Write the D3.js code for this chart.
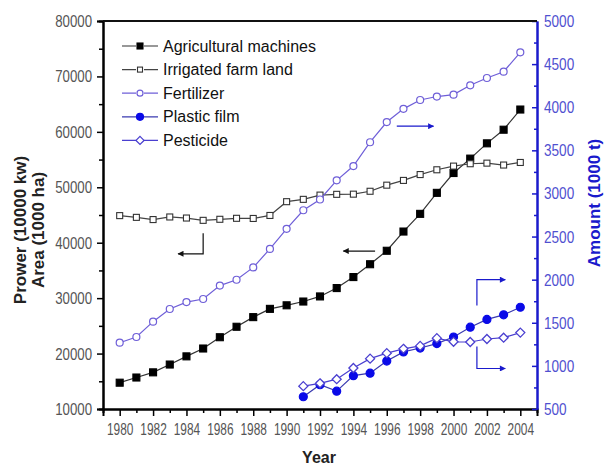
<!DOCTYPE html>
<html>
<head>
<meta charset="utf-8">
<script src="https://cdn.jsdelivr.net/npm/d3@7"></script>
<style>
  html, body { margin: 0; padding: 0; background: #fff; }
  svg { display: block; }
  text { font-family: "Liberation Sans", Arial, sans-serif; }
</style>
</head>
<body>
<div id="chart"></div>
<script>
const years = d3.range(1980, 2005)
const years2 = d3.range(1991, 2005)

// left axis (10000 kw / 1000 ha)
const machines = [14746, 15680, 16614, 18022, 19497, 20913, 22950, 24836, 26575, 28067,
  28708, 29389, 30308, 31817, 33803, 36118, 38547, 42016, 45208, 48996,
  52574, 55172, 57930, 60387, 64028]
const irrigated = [44888, 44574, 44177, 44644, 44453, 44036, 44226, 44403, 44376, 44917,
  47403, 47822, 48590, 48728, 48759, 49281, 50381, 51239, 52296, 53158,
  53820, 54249, 54355, 54014, 54478]

// right axis (1000 t)
const fertilizer = [1269, 1335, 1513, 1660, 1740, 1776, 1931, 1999, 2142, 2357,
  2590, 2805, 2930, 3152, 3318, 3594, 3828, 3981, 4084, 4124,
  4146, 4254, 4339, 4412, 4637]
const plasticFilm = [642, 781, 707, 887, 915, 1056, 1162, 1207, 1259, 1335, 1449, 1539, 1592, 1680]
const pesticide = [765, 798, 846, 976, 1084, 1148, 1198, 1232, 1322, 1279, 1277, 1312, 1327, 1386]

const leftTicks = [10000, 20000, 30000, 40000, 50000, 60000, 70000, 80000]
const rightTicks = [500, 1000, 1500, 2000, 2500, 3000, 3500, 4000, 4500, 5000]
const yearTicks = d3.range(1980, 2005, 2)

const W = 612, H = 466
const blue = '#1a1acc'
const purple = '#6f5fd8'

const x = d3.scaleLinear().domain([1979, 2005]).range([103, 537])
const yL = d3.scaleLinear().domain([10000, 80000]).range([409, 21])
const yR = d3.scaleLinear().domain([500, 5000]).range([409, 21])

const svg = d3.select('#chart').append('svg')
  .attr('width', W).attr('height', H)

// arrowheads
const defs = svg.append('defs')
function marker(id, color) {
  defs.append('marker')
    .attr('id', id)
    .attr('viewBox', '0 0 10 10')
    .attr('refX', 9).attr('refY', 5)
    .attr('markerWidth', 7).attr('markerHeight', 6)
    .attr('markerUnits', 'userSpaceOnUse')
    .attr('orient', 'auto')
    .append('path').attr('d', 'M0,0L10,5L0,10z').attr('fill', color)
}
marker('arrK', '#111')
marker('arrB', blue)

// axes
const xAxis = d3.axisBottom(x).tickValues(yearTicks).tickFormat(d3.format('d')).tickSize(7).tickPadding(7)
const xMinor = d3.axisBottom(x).tickValues(years.filter(d => d % 2)).tickFormat('').tickSize(4)
const lAxis = d3.axisLeft(yL).tickValues(leftTicks).tickFormat(d3.format('d')).tickSize(6)
const lMinor = d3.axisLeft(yL).tickValues(d3.range(15000, 80000, 10000)).tickFormat('').tickSize(4)
const rAxis = d3.axisRight(yR).tickValues(rightTicks).tickFormat(d3.format('d')).tickSizeInner(-5).tickSizeOuter(0)
const rMinor = d3.axisRight(yR).tickValues(d3.range(750, 5000, 500)).tickFormat('').tickSizeInner(-3).tickSizeOuter(0)

// condensed-looking tick labels
function style(g, color, sx, tx) {
  g.select('.domain').attr('stroke', color).attr('stroke-width', 2)
  g.selectAll('.tick line').attr('stroke', color).attr('stroke-width', 1.5)
  const t = g.selectAll('.tick text')
    .attr('fill', color === '#000' ? '#555' : '#5050d0')
    .style('font-size', '17px')
    .attr('transform', `scale(${sx},1)`)
  if (tx !== undefined) t.attr('x', tx)
}

svg.append('g').attr('transform', 'translate(0,409)').call(xMinor).call(g => style(g, '#000', 1))
svg.append('g').attr('transform', 'translate(0,409)').call(xAxis).call(g => style(g, '#000', 0.7))
svg.append('g').attr('transform', 'translate(103,0)').call(lMinor).call(g => style(g, '#000', 1))
svg.append('g').attr('transform', 'translate(103,0)').call(lAxis).call(g => style(g, '#000', 0.78, -11 / 0.78))
svg.append('g').attr('transform', 'translate(537,0)').call(rMinor).call(g => style(g, blue, 1))
svg.append('g').attr('transform', 'translate(537,0)').call(rAxis).call(g => style(g, blue, 0.8, 7 / 0.8))

// top frame
svg.append('line')
  .attr('x1', 103).attr('x2', 537).attr('y1', 21).attr('y2', 21)
  .attr('stroke', '#111').attr('stroke-width', 2)

// axis titles
svg.append('text')
  .attr('x', 319).attr('y', 463)
  .attr('text-anchor', 'middle')
  .style('font-size', '16px').style('font-weight', 'bold').attr('fill', '#222')
  .text('Year')

svg.append('text')
  .attr('transform', 'translate(26,230) rotate(-90)')
  .attr('text-anchor', 'middle')
  .style('font-size', '17px').style('font-weight', 'bold').attr('fill', '#222')
  .text('Prower (10000 kw)')
svg.append('text')
  .attr('transform', 'translate(44,230) rotate(-90)')
  .attr('text-anchor', 'middle')
  .style('font-size', '17px').style('font-weight', 'bold').attr('fill', '#222')
  .text('Area (1000 ha)')

svg.append('text')
  .attr('transform', 'translate(600,203) rotate(-90)')
  .attr('text-anchor', 'middle')
  .style('font-size', '17px').style('font-weight', 'bold').attr('fill', blue)
  .text('Amount (1000 t)')

// series
const series = [
  { name: 'Agricultural machines', xs: years, ys: machines, y: yL, line: '#333', stroke: '#000', fill: '#000', shape: 'square', size: 7 },
  { name: 'Irrigated farm land', xs: years, ys: irrigated, y: yL, line: '#444', stroke: '#333', fill: '#fff', shape: 'square', size: 6 },
  { name: 'Fertilizer', xs: years, ys: fertilizer, y: yR, line: purple, stroke: purple, fill: '#fff', shape: 'circle', size: 7 },
  { name: 'Plastic film', xs: years2, ys: plasticFilm, y: yR, line: '#3a3ab0', stroke: '#0a0ae8', fill: '#0a0ae8', shape: 'circle', size: 8 },
  { name: 'Pesticide', xs: years2, ys: pesticide, y: yR, line: '#4a3fd0', stroke: '#4a3fd0', fill: '#fff', shape: 'diamond', size: 9 }
]

function drawSymbol(g, s, cx, cy) {
  if (s.shape === 'square') {
    g.append('rect')
      .attr('x', cx - s.size / 2).attr('y', cy - s.size / 2)
      .attr('width', s.size).attr('height', s.size)
      .attr('fill', s.fill).attr('stroke', s.stroke).attr('stroke-width', 1.1)
  } else if (s.shape === 'circle') {
    g.append('circle')
      .attr('cx', cx).attr('cy', cy).attr('r', s.size / 2)
      .attr('fill', s.fill).attr('stroke', s.stroke).attr('stroke-width', 1.2)
  } else {
    const r = s.size / 2
    g.append('path')
      .attr('d', `M${cx},${cy - r}L${cx + r},${cy}L${cx},${cy + r}L${cx - r},${cy}Z`)
      .attr('fill', s.fill).attr('stroke', s.stroke).attr('stroke-width', 1.3)
  }
}

series.forEach(s => {
  const pts = s.xs.map((d, i) => [x(d), s.y(s.ys[i])])
  const g = svg.append('g')
  g.append('path')
    .attr('d', d3.line()(pts))
    .attr('fill', 'none').attr('stroke', s.line).attr('stroke-width', 1.2)
  pts.forEach(p => drawSymbol(g, s, p[0], p[1]))
})

// annotation arrows (data coordinates)
const arrows = [
  { y: yL, color: '#111', id: 'arrK', pts: [[1985, 41700], [1985, 38000], [1983.5, 38000]] },
  { y: yL, color: '#111', id: 'arrK', pts: [[1995.3, 38500], [1993.4, 38500]] },
  { y: yR, color: blue, id: 'arrB', pts: [[1996.6, 3780], [1998.8, 3780]] },
  { y: yR, color: blue, id: 'arrB', pts: [[2001.4, 1700], [2001.4, 2000], [2003.1, 2000]] },
  { y: yR, color: blue, id: 'arrB', pts: [[2001.4, 1225], [2001.4, 970], [2003.1, 970]] }
]
arrows.forEach(a => {
  svg.append('path')
    .attr('d', d3.line()(a.pts.map(p => [x(p[0]), a.y(p[1])])))
    .attr('fill', 'none').attr('stroke', a.color).attr('stroke-width', 1.2)
    .attr('marker-end', `url(#${a.id})`)
})

// legend
const legend = svg.append('g')
series.forEach((s, i) => {
  const cy = 46 + i * 23.6
  legend.append('line')
    .attr('x1', 122).attr('x2', 158).attr('y1', cy).attr('y2', cy)
    .attr('stroke', s.line).attr('stroke-width', 1.2)
  // gap around symbol
  legend.append('rect')
    .attr('x', 136).attr('y', cy - 3).attr('width', 8).attr('height', 6).attr('fill', '#fff')
  drawSymbol(legend, Object.assign({}, s, { size: s.size - 1 }), 140, cy)
  legend.append('text')
    .attr('x', 163).attr('y', cy + 5.5)
    .style('font-size', '16px').attr('fill', '#111')
    .text(s.name)
})
</script>
</body>
</html>
